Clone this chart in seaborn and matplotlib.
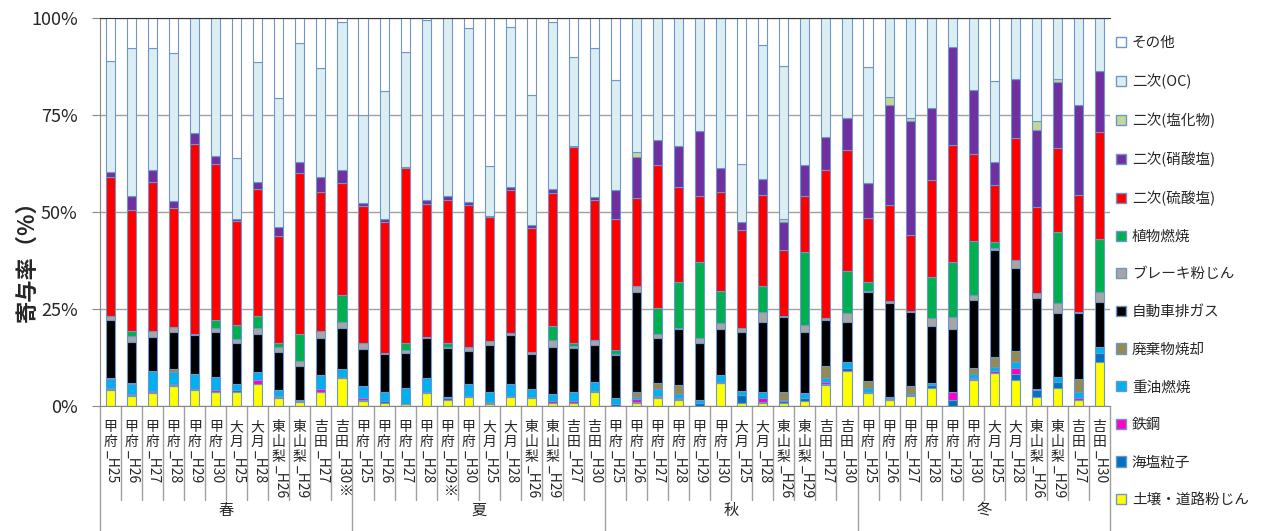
import matplotlib
matplotlib.use("Agg")
import matplotlib.pyplot as plt
import matplotlib.transforms as mtransforms
from matplotlib.patches import Patch
import pandas as pd
import seaborn as sns

# categories
seasons = ["春", "夏", "秋", "冬"]
sites_spring = ["甲府", "甲府", "甲府", "甲府", "甲府", "甲府", "大月", "大月", "東山梨", "東山梨", "吉田", "吉田"]
years_spring = ["_H25", "_H26", "_H27", "_H28", "_H29", "_H30", "_H25", "_H28", "_H26", "_H29", "_H27", "_H30※"]
years_summer = ["_H25", "_H26", "_H27", "_H28", "_H29※", "_H30", "_H25", "_H28", "_H26", "_H29", "_H27", "_H30"]
years_other = ["_H25", "_H26", "_H27", "_H28", "_H29", "_H30", "_H25", "_H28", "_H26", "_H29", "_H27", "_H30"]

# contribution (%) per source, bars ordered 春 x12, 夏 x12, 秋 x12, 冬 x12
soil = [4.1, 2.6, 3.3, 5.2, 4.1, 3.5, 3.5, 5.7, 2.0, 1.1, 3.7, 7.3,
        1.3, 0.9, 0.4, 3.3, 1.5, 2.4, 0.4, 2.4, 2.0, 0.7, 0.7, 3.5,
        0.0, 0.7, 2.0, 1.5, 0.0, 5.8, 0.7, 0.7, 0.7, 1.3, 5.4, 9.0,
        3.3, 1.5, 2.7, 4.7, 0.0, 6.7, 8.4, 6.7, 2.4, 4.7, 1.5, 11.4]
sea_salt = [0.3, 0.2, 0.3, 0.2, 0.3, 0.2, 0.5, 0.0, 0.2, 0.2, 0.0, 0.2,
            0.2, 0.3, 0.2, 0.2, 0.5, 0.3, 0.3, 0.3, 0.3, 0.2, 0.2, 0.3,
            0.4, 0.3, 0.2, 0.2, 0.7, 0.2, 2.1, 0.3, 0.5, 0.8, 0.3, 0.9,
            0.3, 0.3, 0.2, 0.8, 1.5, 0.2, 0.2, 1.5, 1.6, 1.6, 0.0, 2.2]
steel = [0.2, 0.3, 0.3, 0.3, 0.0, 0.3, 0.0, 1.0, 0.4, 0.0, 0.7, 0.0,
         0.5, 0.0, 0.0, 0.0, 0.4, 0.0, 0.4, 0.0, 0.0, 0.4, 0.4, 0.0,
         0.0, 0.8, 0.5, 0.3, 0.0, 0.3, 0.0, 1.1, 0.0, 0.0, 0.6, 0.0,
         0.0, 0.0, 0.0, 0.0, 2.2, 0.2, 0.4, 1.7, 0.4, 0.0, 0.5, 0.0]
heavy_oil = [2.3, 2.5, 5.1, 3.0, 3.8, 3.6, 1.6, 2.0, 1.4, 0.2, 3.6, 2.1,
             3.2, 2.5, 4.1, 3.6, 0.0, 2.9, 2.6, 2.9, 2.1, 1.7, 2.4, 2.5,
             1.6, 0.4, 1.7, 1.0, 0.8, 1.7, 1.1, 1.6, 0.3, 1.2, 0.8, 1.4,
             1.0, 0.2, 0.2, 0.3, 0.0, 1.1, 1.1, 1.5, 0.0, 1.3, 1.7, 1.7]
waste = [0.2, 0.3, 0.0, 0.8, 0.0, 0.0, 0.0, 0.0, 0.0, 0.0, 0.0, 0.0,
         0.0, 0.0, 0.0, 0.0, 0.0, 0.0, 0.0, 0.0, 0.0, 0.0, 0.0, 0.0,
         0.0, 1.5, 1.4, 2.4, 0.0, 0.0, 0.0, 0.0, 2.2, 0.0, 3.3, 0.0,
         1.8, 0.4, 2.1, 0.0, 0.0, 1.7, 2.6, 2.8, 0.0, 0.0, 3.3, 0.0]
vehicle = [15.0, 10.7, 8.9, 9.7, 10.1, 11.6, 10.6, 9.8, 9.8, 8.9, 9.6, 10.4,
           9.4, 9.6, 8.9, 10.5, 12.6, 8.6, 12.0, 12.8, 9.1, 12.3, 11.3, 9.4,
           11.1, 25.8, 11.6, 14.4, 14.7, 11.8, 15.3, 18.0, 19.3, 15.9, 11.8, 10.4,
           22.9, 24.1, 18.9, 14.9, 16.1, 17.4, 27.5, 21.3, 23.5, 16.3, 16.9, 11.4]
brake = [1.0, 1.5, 1.4, 1.2, 0.3, 0.8, 1.1, 1.5, 1.3, 1.2, 1.7, 1.6,
         1.6, 0.3, 0.9, 0.3, 0.3, 1.1, 1.1, 0.3, 0.3, 1.7, 0.4, 1.3,
         0.4, 1.5, 1.1, 0.3, 1.2, 1.5, 1.0, 2.4, 0.3, 1.7, 0.6, 2.2,
         0.3, 0.6, 0.4, 1.9, 3.2, 1.3, 0.6, 2.1, 1.1, 2.6, 0.3, 2.6]
biomass = [0.1, 1.2, 0.0, 0.0, 0.0, 2.2, 3.6, 3.2, 1.2, 6.9, 0.0, 7.0,
           0.0, 0.0, 1.7, 0.0, 0.9, 0.0, 0.0, 0.0, 0.0, 3.6, 0.8, 0.0,
           0.9, 0.0, 6.8, 11.9, 19.8, 8.3, 0.0, 6.9, 0.0, 18.9, 0.0, 10.9,
           2.4, 0.0, 0.0, 10.6, 14.2, 13.8, 1.4, 0.0, 0.0, 18.4, 0.0, 13.7]
sulfate = [35.7, 31.2, 38.5, 30.7, 48.8, 40.2, 26.9, 32.7, 27.5, 41.5, 35.9, 29.0,
           35.3, 33.7, 45.1, 34.2, 36.9, 36.6, 32.0, 36.9, 32.0, 34.2, 50.6, 36.1,
           33.8, 22.7, 36.8, 24.5, 16.8, 25.6, 25.2, 23.4, 16.8, 14.2, 38.0, 31.2,
           16.5, 24.7, 19.6, 25.0, 30.1, 22.5, 14.8, 31.4, 22.4, 21.5, 30.2, 27.7]
nitrate = [1.3, 3.5, 3.0, 1.7, 2.9, 2.0, 0.4, 1.9, 2.4, 3.0, 3.7, 3.2,
           0.7, 0.8, 0.3, 0.9, 1.0, 0.7, 0.2, 0.9, 0.8, 1.1, 0.2, 0.7,
           7.5, 10.6, 6.5, 10.5, 17.0, 6.2, 2.1, 4.0, 7.3, 8.1, 8.6, 8.3,
           8.9, 25.8, 29.4, 18.7, 25.3, 16.5, 6.0, 15.2, 19.7, 17.2, 23.3, 15.6]
chloride = [0.0] * 12 + [0.0] * 12 + \
           [0.0, 1.1, 0.0, 0.0, 0.0, 0.0, 0.0, 0.0, 0.8, 0.0, 0.0, 0.0,
            0.0, 2.1, 0.6, 0.0, 0.0, 0.0, 0.0, 0.0, 2.4, 0.6, 0.0, 0.0]
oc = [28.6, 38.2, 31.4, 38.3, 29.7, 35.6, 15.6, 30.8, 33.3, 30.5, 28.1, 38.1,
      22.8, 33.1, 29.6, 46.5, 45.9, 44.7, 12.9, 41.1, 33.6, 43.1, 23.0, 38.4,
      28.2, 34.6, 31.4, 33.0, 29.0, 38.6, 14.8, 34.6, 39.4, 37.9, 30.6, 25.7,
      29.9, 20.3, 25.9, 23.1, 7.4, 18.6, 20.8, 15.8, 26.5, 15.8, 22.3, 13.7]
other = [11.4, 7.8, 7.8, 8.9, 0.0, 0.0, 36.2, 11.4, 20.5, 6.5, 13.0, 1.1,
         25.0, 18.8, 9.1, 0.8, 0.0, 2.7, 38.1, 2.4, 19.8, 1.0, 10.2, 7.8,
         16.1, 0.0, 0.0, 0.0, 0.0, 0.0, 37.7, 7.0, 12.7, 0.0, 0.0, 0.0,
         12.7, 0.0, 0.0, 0.0, 0.0, 0.0, 16.2, 0.0, 0.0, 0.0, 0.0, 0.0]

# legend order, top of stack first
SOURCES = [
    ("その他", other, "#FFFFFF"),
    ("二次(OC)", oc, "#DAEEF3"),
    ("二次(塩化物)", chloride, "#C4D79B"),
    ("二次(硝酸塩)", nitrate, "#7030A0"),
    ("二次(硫酸塩)", sulfate, "#FF0000"),
    ("植物燃焼", biomass, "#00B050"),
    ("ブレーキ粉じん", brake, "#A6A6A6"),
    ("自動車排ガス", vehicle, "#000000"),
    ("廃棄物焼却", waste, "#948A54"),
    ("重油燃焼", heavy_oil, "#00B0F0"),
    ("鉄鋼", steel, "#FF00CC"),
    ("海塩粒子", sea_salt, "#0070C0"),
    ("土壌・道路粉じん", soil, "#FFFF00"),
]
EDGE = "#6F95C9"

sns.set_style("white")
plt.rcParams["font.family"] = ["Noto Sans CJK JP", "DejaVu Sans"]

rows = []
for name, values, _ in SOURCES:
    for i, v in enumerate(values):
        rows.append({"pos": i, "source": name, "value": v})
df = pd.DataFrame(rows)
palette = {name: color for name, _, color in SOURCES}
hue_order = [name for name, _, _ in SOURCES]

fig = plt.figure(figsize=(12.61, 5.31), dpi=100)
ax = fig.add_axes([100 / 1261, 1 - 406 / 531, 1010 / 1261, 388 / 531])

sns.histplot(
    data=df, x="pos", weights="value", hue="source", hue_order=hue_order,
    multiple="stack", discrete=True, shrink=0.43, palette=palette,
    edgecolor=EDGE, linewidth=0.8, alpha=1, legend=False, ax=ax,
)

n_bars = len(soil)
ax.set_xlim(-0.5, n_bars - 0.5)
ax.set_ylim(0, 100)
ax.set_yticks([0, 25, 50, 75, 100])
ax.set_yticklabels(["0%", "25%", "50%", "75%", "100%"], fontsize=13)
ax.set_xticks([])
ax.set_xlabel("")
ax.set_ylabel("")
ax.yaxis.grid(True, color="#A0A0A0", linewidth=1)
ax.set_axisbelow(True)
ax.tick_params(axis="y", length=6, color="#888888", left=True, pad=10)
for side in ["left", "bottom"]:
    ax.spines[side].set_color("#888888")
ax.spines["right"].set_visible(False)
ax.spines["top"].set_color("#333333")

fig.text(27 / 1261, 1 - 256 / 531, "寄与率（%）", rotation=90, fontsize=16,
         fontweight="bold", ha="center", va="center")

# category axis: cell separators and stacked labels
trans = mtransforms.blended_transform_factory(ax.transData, ax.transAxes)
px = 1 / 388
for b in range(n_bars + 1):
    x = b - 0.5
    bottom = -125 * px if b % 12 == 0 else -94 * px
    ax.plot([x, x], [0, bottom], color="#A0A0A0", linewidth=1,
            transform=trans, clip_on=False)

year_sets = [years_spring, years_summer, years_other, years_other]
for s, season in enumerate(seasons):
    for j in range(12):
        pos = s * 12 + j
        site = sites_spring[j]
        for k, ch in enumerate(site):
            ax.text(pos, -(14 + k * 15) * px, ch, transform=trans, fontsize=10,
                    ha="center", va="top")
        ax.text(pos + 0.08, -(14 + len(site) * 15) * px, year_sets[s][j],
                transform=trans, fontsize=10, rotation=270, ha="center",
                va="top", rotation_mode="default")
    ax.text(s * 12 + 5.5, -104 * px, season, transform=trans, fontsize=11,
            ha="center", va="center")

handles = [Patch(facecolor=c, edgecolor=EDGE, linewidth=1, label=n) for n, _, c in SOURCES]
fig.legend(handles=handles, loc="upper left", bbox_to_anchor=(1110 / 1261, 1 - 30 / 531),
           frameon=False, fontsize=10.5, handlelength=0.7, handleheight=0.7,
           handletextpad=0.4, labelspacing=1.62, borderaxespad=0)

fig.savefig("out.png", dpi=100)
